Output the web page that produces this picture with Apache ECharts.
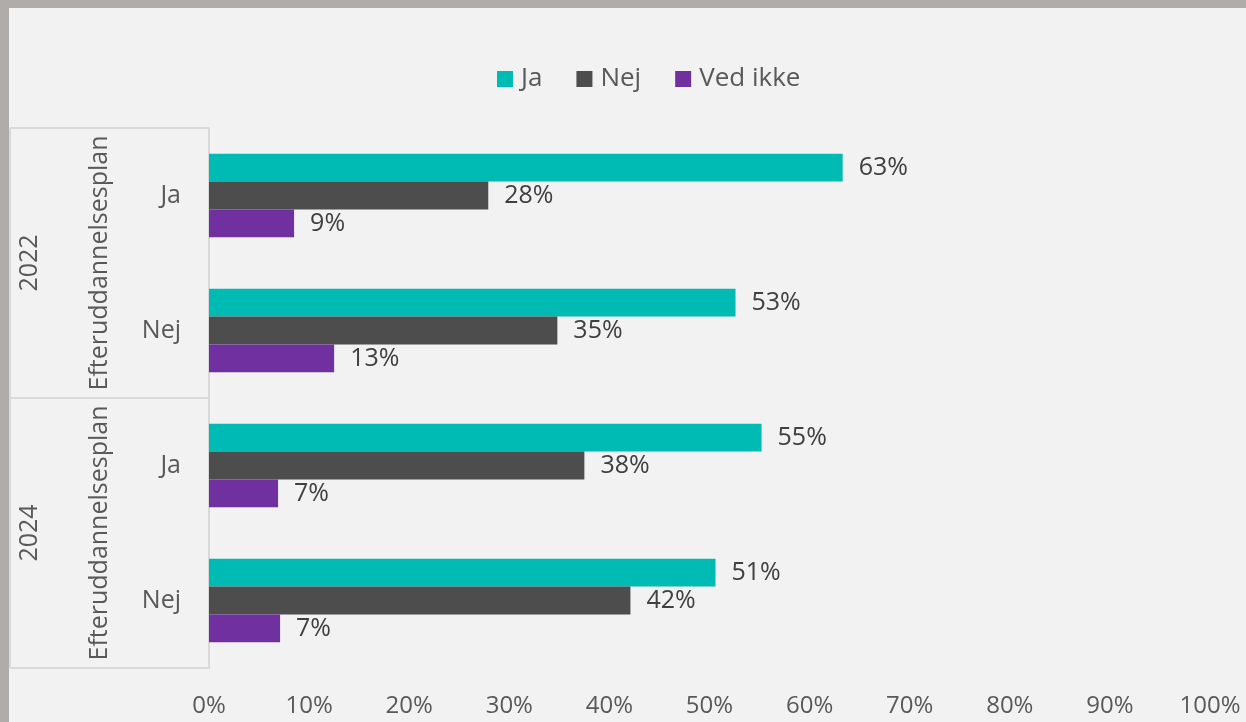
<!DOCTYPE html>
<html>
<head>
<meta charset="utf-8">
<script src="https://cdn.jsdelivr.net/npm/echarts@6/dist/echarts.min.js"></script>
<style>
html, body { margin: 0; padding: 0; background: #b0acaa; }
#main { position: absolute; left: 9px; top: 8px; width: 1237px; height: 714px; background: #f2f2f2; }
</style>
</head>
<body>
<div id="main"></div>
<script>
// kategorier (oppefra og ned)
var categories = ['Ja', 'Nej', 'Ja', 'Nej'];
var years = ['2022', '2024'];
var groupName = 'Efteruddannelsesplan';
var seriesNames = ['Ja', 'Nej', 'Ved ikke'];
var jaValues = [63.3, 52.6, 55.2, 50.6];
var nejValues = [27.9, 34.8, 37.5, 42.1];
var vedIkkeValues = [8.5, 12.5, 6.9, 7.1];
var colors = ['#00bbb4', '#4d4d4d', '#7030a0'];

var chart = echarts.init(document.getElementById('main'));
var font = '"Open Sans", "Noto Sans", sans-serif';

function makeSeries(name, data, color) {
	return {
		name: name,
		type: 'bar',
		barGap: 0,
		barCategoryGap: '38%',
		itemStyle: { color: color },
		label: {
			show: true,
			position: 'right',
			distance: 16,
			color: '#404040',
			fontSize: 25,
			fontFamily: font,
			formatter: function (p) { return Math.round(p.value) + '%'; }
		},
		data: data
	};
}

// grid i sidekoordinater (div starter ved 9,8)
var gridTop = 120, gridBottom = 54, gridLeft = 200, gridRight = 36;
var plotH = 714 - gridTop - gridBottom;

var graphics = [];
// tabel-linjer til venstre
var boxLeft = 1, boxRight = 200;
[0, plotH / 2, plotH].forEach(function (dy) {
	graphics.push({
		type: 'line', shape: { x1: boxLeft, y1: gridTop + dy, x2: boxRight, y2: gridTop + dy },
		style: { stroke: '#d9d9d9', lineWidth: 2 }
	});
});
graphics.push({
	type: 'line', shape: { x1: boxLeft, y1: gridTop, x2: boxLeft, y2: gridTop + plotH },
	style: { stroke: '#d9d9d9', lineWidth: 2 }
});
years.forEach(function (y, i) {
	var cy = gridTop + plotH / 4 + i * plotH / 2;
	graphics.push({
		type: 'text', x: 21, y: cy, rotation: Math.PI / 2,
		style: { text: y, fill: '#595959', font: '25px ' + font, align: 'center', verticalAlign: 'middle' }
	});
	graphics.push({
		type: 'text', x: 91, y: cy, rotation: Math.PI / 2,
		style: { text: groupName, fill: '#595959', font: '25px ' + font, align: 'center', verticalAlign: 'middle' }
	});
});

var option = {
	backgroundColor: '#f2f2f2',
	animation: false,
	textStyle: { fontFamily: font },
	legend: {
		top: 53,
		left: 483,
		itemWidth: 16,
		itemHeight: 16,
		itemGap: 34,
		icon: 'rect',
		textStyle: { color: '#595959', fontSize: 26, fontFamily: font, padding: [0, 0, 0, 3] },
		data: seriesNames
	},
	grid: { top: gridTop, bottom: gridBottom, left: gridLeft, right: gridRight },
	xAxis: {
		type: 'value',
		min: 0,
		max: 100,
		interval: 10,
		axisLine: { show: false },
		axisTick: { show: false },
		splitLine: { show: false },
		axisLabel: {
			color: '#595959',
			fontSize: 24,
			margin: 26,
			fontFamily: font,
			formatter: '{value}%'
		}
	},
	yAxis: {
		type: 'category',
		inverse: true,
		data: categories,
		axisLine: { show: true, lineStyle: { color: '#d9d9d9', width: 2 } },
		axisTick: { show: false },
		axisLabel: { color: '#595959', fontSize: 25, margin: 28, fontFamily: font }
	},
	graphic: graphics,
	series: [
		makeSeries(seriesNames[0], jaValues, colors[0]),
		makeSeries(seriesNames[1], nejValues, colors[1]),
		makeSeries(seriesNames[2], vedIkkeValues, colors[2])
	]
};
chart.setOption(option);
</script>
</body>
</html>
